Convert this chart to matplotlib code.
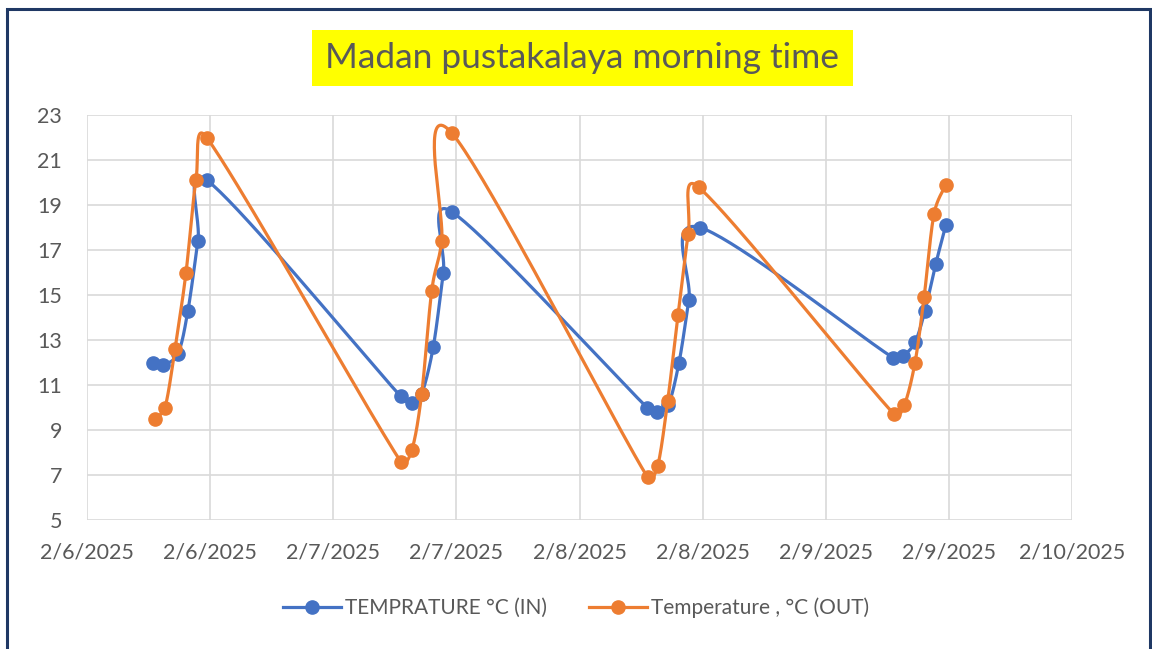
import numpy as np
import pandas as pd
import matplotlib
matplotlib.use('Agg')
import matplotlib.pyplot as plt
import matplotlib.dates as mdates
from matplotlib.patches import Rectangle
from matplotlib.lines import Line2D
from matplotlib.ticker import FuncFormatter

# readings (time of reading, temperature)
in_times = ['2025-02-06 06:26', '2025-02-06 07:25', '2025-02-06 08:52', '2025-02-06 09:50', '2025-02-06 10:49', '2025-02-06 11:42',
            '2025-02-07 06:34', '2025-02-07 07:39', '2025-02-07 08:37', '2025-02-07 09:45', '2025-02-07 10:44', '2025-02-07 11:33',
            '2025-02-08 06:35', '2025-02-08 07:35', '2025-02-08 08:39', '2025-02-08 09:42', '2025-02-08 10:40', '2025-02-08 11:44',
            '2025-02-09 06:36', '2025-02-09 07:31', '2025-02-09 08:42', '2025-02-09 09:40', '2025-02-09 10:44', '2025-02-09 11:42']
temp_in = [12.0, 11.9, 12.4, 14.3, 17.4, 20.1,
           10.5, 10.2, 10.6, 12.7, 16.0, 18.7,
           10.0, 9.8, 10.1, 12.0, 14.8, 18.0,
           12.2, 12.3, 12.9, 14.3, 16.4, 18.1]

out_times = ['2025-02-06 06:38', '2025-02-06 07:36', '2025-02-06 08:35', '2025-02-06 09:39', '2025-02-06 10:37', '2025-02-06 11:40',
             '2025-02-07 06:34', '2025-02-07 07:39', '2025-02-07 08:37', '2025-02-07 09:36', '2025-02-07 10:34', '2025-02-07 11:33',
             '2025-02-08 06:38', '2025-02-08 07:37', '2025-02-08 08:36', '2025-02-08 09:36', '2025-02-08 10:36', '2025-02-08 11:36',
             '2025-02-09 06:40', '2025-02-09 07:39', '2025-02-09 08:42', '2025-02-09 09:35', '2025-02-09 10:33', '2025-02-09 11:43']
temp_out = [9.5, 10.0, 12.6, 16.0, 20.1, 22.0,
            7.6, 8.1, 10.6, 15.2, 17.4, 22.2,
            6.9, 7.4, 10.3, 14.1, 17.7, 19.8,
            9.7, 10.1, 12.0, 14.9, 18.6, 19.9]

labels = ['TEMPRATURE °C (IN)', 'Temperature , °C (OUT)']
colors = ['#4472C4', '#ED7D31']


def smooth(ax, x, y, n=40):
    # excel style smoothed line, worked out in screen pixels
    pts = ax.transData.transform(np.column_stack([x, y]))
    P = np.vstack([pts[0], pts, pts[-1]])
    t = np.linspace(0, 1, n)[:, None]
    out = []
    for i in range(len(pts) - 1):
        p0, p1, p2, p3 = P[i], P[i + 1], P[i + 2], P[i + 3]
        d12 = np.hypot(*(p2 - p1))
        d02 = np.hypot(*(p2 - p0))
        d13 = np.hypot(*(p3 - p1))
        f1 = 1 / 6 if d02 / 6 < d12 / 2 else d12 / (2 * d02)
        f2 = 1 / 6 if d13 / 6 < d12 / 2 else d12 / (2 * d13)
        c1 = p1 + f1 * (p2 - p0)
        c2 = p2 - f2 * (p3 - p1)
        b = (1 - t) ** 3 * p1 + 3 * (1 - t) ** 2 * t * c1 + 3 * (1 - t) * t ** 2 * c2 + t ** 3 * p2
        out.append(b)
    back = ax.transData.inverted().transform(np.vstack(out))
    return back[:, 0], back[:, 1]


plt.rcParams['font.family'] = ['Lato', 'DejaVu Sans']
fig = plt.figure(figsize=(11.52, 6.49), dpi=100)
ax = fig.add_axes([87 / 1152, 1 - 520 / 649, 985 / 1152, 405 / 649])

x0 = mdates.date2num(pd.Timestamp('2025-02-06').to_pydatetime())
ax.set_xlim(x0, x0 + 4)
ax.set_ylim(5, 23)

series = [(in_times, temp_in), (out_times, temp_out)]
for (tt, vals), c in zip(series, colors):
    x = mdates.date2num(pd.to_datetime(tt).to_pydatetime())
    sx, sy = smooth(ax, x, np.array(vals))
    ax.plot(sx, sy, color=c, lw=2.3, solid_capstyle='round')
    ax.plot(x, vals, 'o', color=c, ms=9.5)

ax.set_xticks(np.arange(x0, x0 + 4.01, 0.5))
ax.set_yticks(np.arange(5, 24, 2))


def datefmt(v, pos):
    d = mdates.num2date(v)
    return f'{d.month}/{d.day}/{d.year}'


ax.xaxis.set_major_formatter(FuncFormatter(datefmt))
ax.grid(True, color='#d9d9d9', lw=1.2)
ax.set_axisbelow(True)
for s in ax.spines.values():
    s.set_visible(False)
ax.tick_params(length=0, labelsize=15.5, labelcolor='#595959')
ax.tick_params(axis='x', pad=16)
ax.tick_params(axis='y', pad=18)

handles = [Line2D([], [], color=c, lw=2.3, marker='o', ms=9.5) for c in colors]
fig.legend(handles, labels, loc='center', bbox_to_anchor=(0.5, 1 - 608 / 649), ncol=2,
           frameon=False, fontsize=15, labelcolor='#595959', handlelength=2.8,
           columnspacing=2.0, handletextpad=0.2)

# title with yellow highlight
fig.add_artist(Rectangle((312 / 1152, 1 - 86 / 649), 541 / 1152, 56 / 649,
                         transform=fig.transFigure, facecolor='#FFFF00', edgecolor='none'))
fig.text(582 / 1152, 1 - 58 / 649, 'Madan pustakalaya morning time', ha='center', va='center',
         fontsize=25.5, color='#595959')

# chart border
fig.add_artist(Rectangle((7 / 1152, -0.1), 1143 / 1152, 1.1 - 9 / 649, transform=fig.transFigure,
                         fill=False, edgecolor='#1F3864', lw=2.2))

fig.savefig('out.png', dpi=100)
